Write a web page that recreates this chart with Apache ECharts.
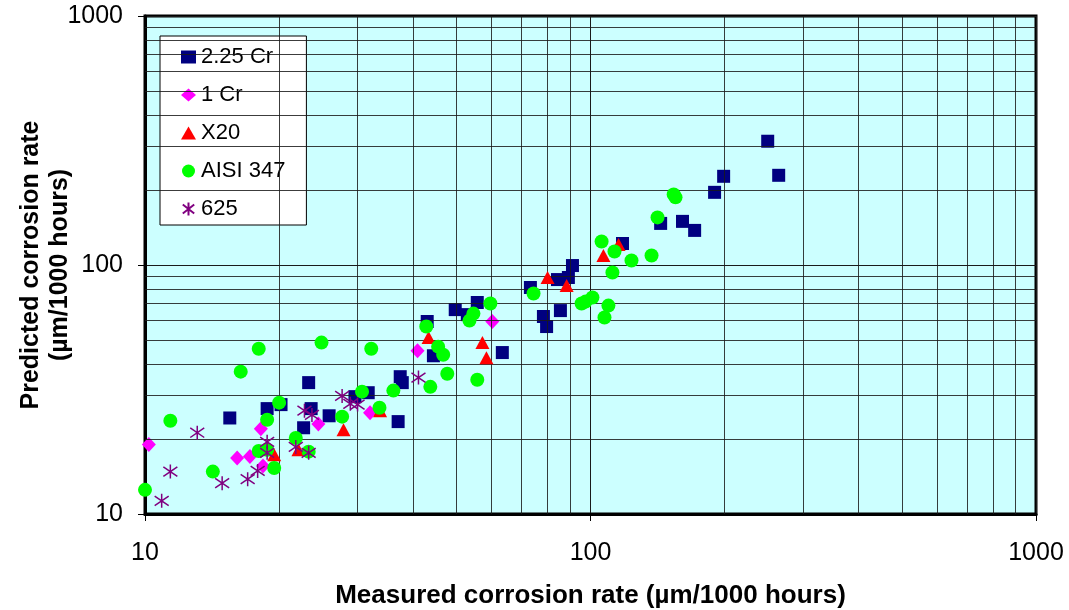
<!DOCTYPE html>
<html>
<head>
<meta charset="utf-8">
<script src="https://cdn.jsdelivr.net/npm/echarts@6/dist/echarts.min.js"></script>
<style>
html,body{margin:0;padding:0;background:#fff;}
#chart{width:1069px;height:610px;}
</style>
</head>
<body>
<div id="chart"></div>
<script>
// ---- data (measured, predicted) in µm/1000 hours ----
const seriesNames = ['2.25 Cr', '1 Cr', 'X20', 'AISI 347', '625'];

const cr225 = [[15.5,24.3],[18.8,26.5],[20.2,27.5],[23.3,33.7],[23.6,26.5],[22.7,22.2],[25.9,24.8],
  [29.6,29.6],[31.7,30.7],[37.4,35.6],[37.8,33.7],[37.0,23.5],[43.0,59.3],[44.4,43.2],[49.7,66.2],
  [55.7,70.7],[52.9,63.2],[63.4,44.5],[73.3,81.2],[78.4,62.1],[79.7,56.6],[84.3,87.4],[91.1,99.5],
  [89.2,89.1],[85.6,65.6],[118,122],[143.7,146.9],[160.9,149.7],[171.3,137.7],[189.9,195.8],
  [199,227.1],[249.9,314.1],[264.5,229.2]];

const cr1 = [[10.2,19.0],[16.1,16.8],[17.2,17.0],[18.2,22.0],[18.4,15.6],[24.5,23.0],[32.0,25.5],
  [40.9,45.3],[60.2,59.3]];

const x20 = [[19.5,17.3],[22.1,18.1],[27.9,21.8],[33.7,26.0],[43.3,51.1],[57.2,48.8],[58.4,42.4],
  [80.1,89.1],[88.4,82.7],[106.9,109.2],[115.6,120.9]];

const aisi347 = [[10.0,12.5],[11.4,23.7],[14.2,14.8],[16.4,37.3],[18.0,46.1],[24.9,48.8],[20.0,28.0],
  [18.8,23.9],[18.0,17.9],[18.8,18.1],[19.5,15.3],[21.8,20.2],[23.3,17.8],[27.7,24.6],[30.7,31.0],
  [32.2,46.1],[33.6,26.7],[36.1,31.3],[42.8,56.6],[43.7,32.4],[45.5,47.0],[46.7,43.6],[47.7,36.6],
  [55.7,34.6],[53.5,59.8],[54.6,63.8],[59.6,70.0],[74.5,76.8],[95.5,70.0],[97.5,71.3],[101,74.0],
  [109.7,68.7],[107.5,61.5],[112,93.3],[113.2,113.3],[105.9,124.3],[123.6,104.3],[137.1,109.2],
  [141.4,155.3],[153.7,192.1],[155.2,186.9]];

const a625 = [[10.9,11.3],[11.4,14.8],[13.1,21.2],[14.9,13.3],[17.0,13.8],[17.9,14.9],[18.8,19.5],
  [18.8,17.6],[21.8,18.6],[23.3,17.6],[22.8,26.0],[23.7,25.0],[27.7,29.8],[28.9,27.7],[30.0,27.5],
  [41.1,35.3]];

// axis ticks & minor grid values
const axisMin = 10, axisMax = 1000;
const minorGrid = [20,30,40,50,60,70,80,90,200,300,400,500,600,700,800,900];

const starPath = 'path://M5,0L5,10M0.6,1.6L9.4,8.4M0.6,8.4L9.4,1.6';

const chart = echarts.init(document.getElementById('chart'), null, {renderer: 'canvas'});
const font = 'Arial, "Liberation Sans", sans-serif';

const gridLineStyle = {color: '#1a1a1a', width: 1, type: 'solid'};
const tickFormatter = v => String(Math.round(v));

const option = {
  animation: false,
  backgroundColor: '#ffffff',
  grid: {
    left: 145, right: 33, top: 16, bottom: 96,
    containLabel: false, outerBoundsMode: 'none',
    show: true, backgroundColor: '#CCFFFF', borderColor: '#000', borderWidth: 3
  },
  legend: {
    orient: 'vertical',
    left: 160, top: 36,
    data: seriesNames,
    backgroundColor: '#ffffff',
    borderColor: '#000', borderWidth: 1,
    padding: [10, 21, 5, 21],
    itemWidth: 15, itemHeight: 13, itemGap: 16,
    textStyle: {fontFamily: font, fontSize: 22, color: '#000', lineHeight: 22},
    selectedMode: false
  },
  xAxis: {
    type: 'log', logBase: 10, min: axisMin, max: axisMax,
    name: 'Measured corrosion rate (µm/1000 hours)',
    nameLocation: 'middle', nameGap: 69,
    nameTextStyle: {fontFamily: font, fontSize: 26, fontWeight: 'bold', color: '#000'},
    axisLine: {show: true, lineStyle: {color: '#000', width: 3}},
    axisTick: {show: true, length: 7, lineStyle: {color: '#000', width: 1}},
    axisLabel: {fontFamily: font, fontSize: 25, color: '#000', margin: 27, formatter: tickFormatter},
    splitLine: {show: true, lineStyle: gridLineStyle}
  },
  yAxis: {
    type: 'log', logBase: 10, min: axisMin, max: axisMax,
    axisLine: {show: true, lineStyle: {color: '#000', width: 3}},
    axisTick: {show: true, length: 7, lineStyle: {color: '#000', width: 1}},
    axisLabel: {fontFamily: font, fontSize: 25, color: '#000', margin: 22, formatter: tickFormatter},
    splitLine: {show: true, lineStyle: gridLineStyle}
  },
  graphic: [{
    type: 'text', x: 46, y: 265, rotation: Math.PI / 2,
    style: {
      text: 'Predicted corrosion rate\n(µm/1000 hours)',
      font: 'bold 25px ' + font, fill: '#000',
      textAlign: 'center', textVerticalAlign: 'middle', lineHeight: 29
    }
  }],
  series: [
    {
      name: 'minor-grid', type: 'scatter', data: [], silent: true, z: 1,
      markLine: {
        silent: true, symbol: 'none', animation: false,
        label: {show: false},
        lineStyle: {color: '#1a1a1a', width: 1, type: 'solid', opacity: 0.85},
        emphasis: {disabled: true},
        data: minorGrid.map(v => ({xAxis: v})).concat(minorGrid.map(v => ({yAxis: v})))
      }
    },
    {name: '2.25 Cr', type: 'scatter', data: cr225, symbol: 'rect', symbolSize: 13, z: 3,
     itemStyle: {color: '#000080', opacity: 1}},
    {name: '1 Cr', type: 'scatter', data: cr1, symbol: 'diamond', symbolSize: [14, 15], z: 4,
     itemStyle: {color: '#FF00FF', opacity: 1}},
    {name: 'X20', type: 'scatter', data: x20, symbol: 'triangle', symbolSize: [14, 13], z: 5,
     itemStyle: {color: '#FF0000', opacity: 1}},
    {name: 'AISI 347', type: 'scatter', data: aisi347, symbol: 'circle', symbolSize: 14, z: 6,
     itemStyle: {color: '#00FF00', opacity: 1}},
    {name: '625', type: 'scatter', data: a625, symbol: starPath, symbolSize: 14, z: 7,
     itemStyle: {color: '#800080', borderColor: '#800080', borderWidth: 1.5, opacity: 1}}
  ]
};
chart.setOption(option);
</script>
</body>
</html>
